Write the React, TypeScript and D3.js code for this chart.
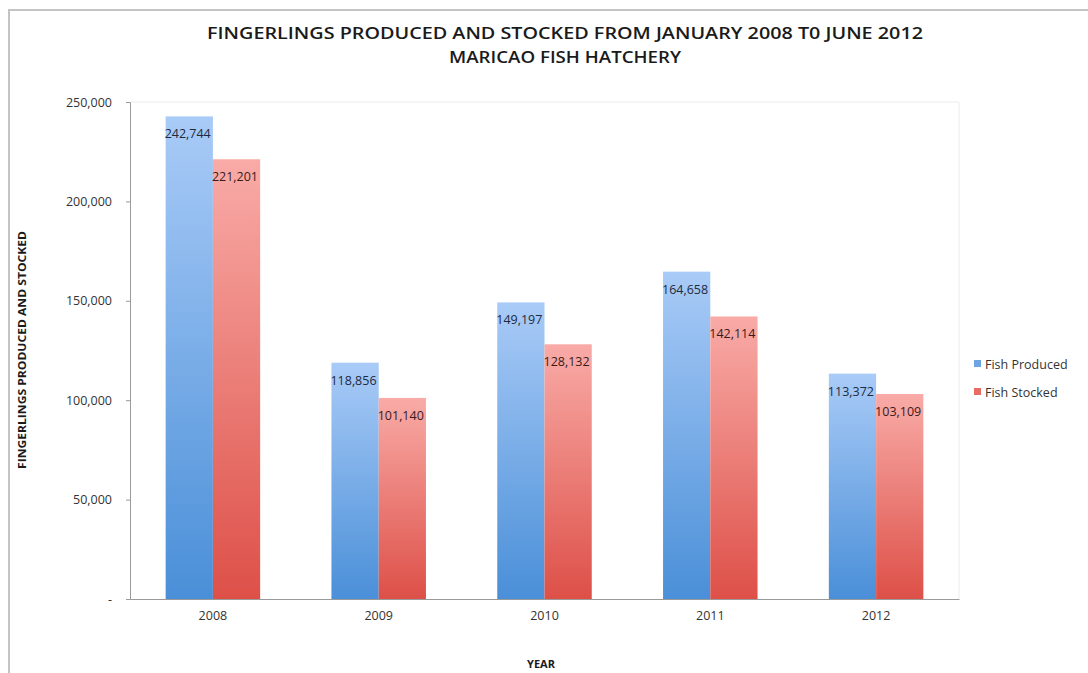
import React, { useEffect, useRef } from 'react';
import * as d3 from 'd3';

const years = ['2008', '2009', '2010', '2011', '2012'];
const fishProduced = [242744, 118856, 149197, 164658, 113372];
const fishStocked = [221201, 101140, 128132, 142114, 103109];
const yTicks = [0, 50000, 100000, 150000, 200000, 250000];
const seriesNames = ['Fish Produced', 'Fish Stocked'];

const W = 1088;
const H = 673;

const App: React.FC = () => {
  const svgRef = useRef<SVGSVGElement>(null);

  useEffect(() => {
    if (!svgRef.current) return;
    const svg = d3.select(svgRef.current);
    svg.selectAll('*').remove();

    const left = 130, right = 959, top = 102, bottom = 599;
    const font = '"Open Sans", "DejaVu Sans", sans-serif';

    const defs = svg.append('defs');
    const grads = [
      { id: 'gBlue', top: '#a9cbf7', bottom: '#4a8fd8' },
      { id: 'gRed', top: '#f9aba7', bottom: '#dd5048' },
    ];
    grads.forEach(g => {
      const lg = defs.append('linearGradient').attr('id', g.id)
        .attr('x1', 0).attr('y1', 0).attr('x2', 0).attr('y2', 1);
      lg.append('stop').attr('offset', '0%').attr('stop-color', g.top);
      lg.append('stop').attr('offset', '100%').attr('stop-color', g.bottom);
    });
    const colors = ['url(#gBlue)', 'url(#gRed)'];
    const legendColors = ['#6fa4e4', '#e86b64'];

    svg.append('rect').attr('width', W).attr('height', H).attr('fill', '#fff');

    // outer frame
    svg.append('path')
      .attr('d', `M9,${H} L9,10 L${W},10`)
      .attr('fill', 'none').attr('stroke', '#c4c4c4').attr('stroke-width', 2);

    // title
    const title = svg.append('text').attr('text-anchor', 'middle')
      .style('font-family', font).style('font-weight', 600).style('font-size', '15.5px')
      .attr('fill', '#1a1a1a');
    title.append('tspan').attr('x', 565).attr('y', 39)
      .attr('textLength', 716).attr('lengthAdjust', 'spacingAndGlyphs')
      .text('FINGERLINGS PRODUCED AND STOCKED FROM JANUARY 2008 T0 JUNE 2012');
    title.append('tspan').attr('x', 565).attr('y', 63)
      .attr('textLength', 232).attr('lengthAdjust', 'spacingAndGlyphs')
      .text('MARICAO FISH HATCHERY');

    const x0 = d3.scaleBand<string>().domain(years).range([left, right]).paddingInner(0.43).paddingOuter(0.215);
    const x1 = d3.scaleBand<number>().domain([0, 1]).range([0, x0.bandwidth()]);
    const y = d3.scaleLinear().domain([0, 250000]).range([bottom, top]);

    // plot area border (light)
    svg.append('path')
      .attr('d', `M${left},${top} L${right},${top} L${right},${bottom}`)
      .attr('fill', 'none').attr('stroke', '#ececec').attr('stroke-width', 1);

    // bars
    const series = [fishProduced, fishStocked];
    years.forEach((yr, i) => {
      series.forEach((s, k) => {
        const bx = (x0(yr) || 0) + (x1(k) || 0);
        svg.append('rect')
          .attr('x', bx).attr('y', y(s[i]))
          .attr('width', x1.bandwidth()).attr('height', bottom - y(s[i]))
          .attr('fill', colors[k]);
      });
    });

    // value labels
    years.forEach((yr, i) => {
      series.forEach((s, k) => {
        const bx = (x0(yr) || 0) + (x1(k) || 0);
        svg.append('text')
          .attr('x', bx - 1).attr('y', y(s[i]) + 22)
          .style('font-family', font).style('font-size', '12.5px')
          .attr('fill', k === 0 ? '#1d2a40' : '#3a1a1a')
          .text(d3.format(',')(s[i]));
      });
    });

    // axes
    const yAxis = svg.append('g').attr('transform', `translate(${left},0)`)
      .call(d3.axisLeft(y).tickValues(yTicks).tickSize(4).tickPadding(14)
        .tickFormat(d => (+d === 0 ? '-' : d3.format(',')(+d))));
    yAxis.select('.domain').attr('stroke', '#9a9a9a');
    yAxis.selectAll('line').attr('stroke', '#9a9a9a');
    yAxis.selectAll('text').style('font-family', font).style('font-size', '12.5px').attr('fill', '#333');

    const xAxis = svg.append('g').attr('transform', `translate(0,${bottom})`)
      .call(d3.axisBottom(x0).tickSize(0).tickPadding(12));
    xAxis.select('.domain').attr('stroke', '#9a9a9a');
    xAxis.selectAll('text').style('font-family', font).style('font-size', '12.5px').attr('fill', '#333');

    // axis titles
    svg.append('text')
      .attr('transform', `translate(26,${350}) rotate(-90)`)
      .attr('text-anchor', 'middle')
      .style('font-family', font).style('font-weight', 'bold').style('font-size', '11px')
      .attr('textLength', 238).attr('lengthAdjust', 'spacingAndGlyphs')
      .attr('fill', '#1a1a1a')
      .text('FINGERLINGS PRODUCED AND STOCKED');
    svg.append('text')
      .attr('x', 541).attr('y', 668)
      .attr('text-anchor', 'middle')
      .style('font-family', font).style('font-weight', 'bold').style('font-size', '11px')
      .attr('fill', '#1a1a1a')
      .text('YEAR');

    // legend
    seriesNames.forEach((name, k) => {
      const ly = 364 + k * 28;
      svg.append('rect').attr('x', 974).attr('y', ly - 4).attr('width', 7).attr('height', 7)
        .attr('fill', legendColors[k]);
      svg.append('text').attr('x', 985).attr('y', ly + 4.5)
        .style('font-family', font).style('font-size', '12.5px').attr('fill', '#333')
        .text(name);
    });
  }, []);

  return (
    <div style={{ position: 'absolute', left: 0, top: 0 }}>
      <svg ref={svgRef} width={W} height={H} style={{ display: 'block' }} />
    </div>
  );
};

export default App;
